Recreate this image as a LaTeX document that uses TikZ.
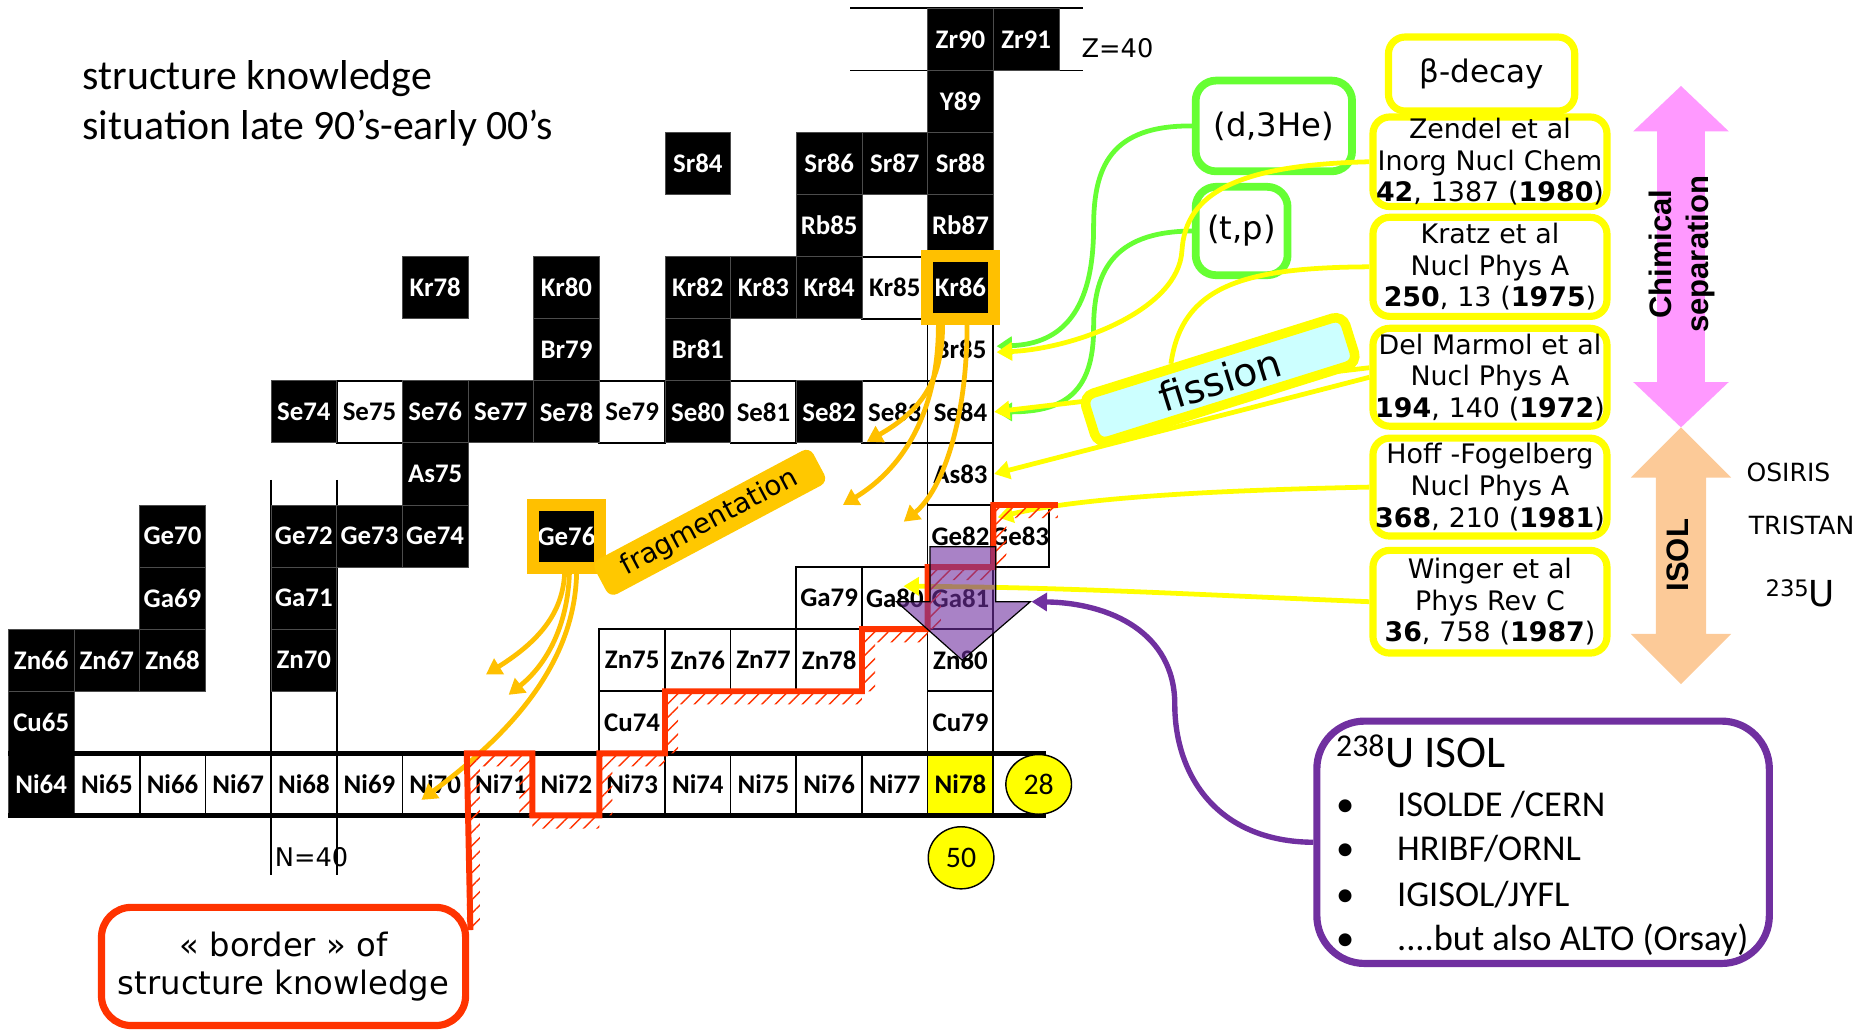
\documentclass[tikz,border=0pt]{standalone}
\usepackage{fontspec}
\setmainfont{Carlito}
\newfontfamily\calfont{Carlito}
\newfontfamily\verfont{DejaVu Sans}
\newfontfamily\arfont{Liberation Sans}
\usetikzlibrary{arrows.meta,calc,patterns.meta,shapes.geometric}
\newcommand\setfs[2]{\fontsize{#1}{#2}\selectfont}

\definecolor{frgold}{HTML}{FFC000}
\definecolor{fraggold}{HTML}{FFC800}
\definecolor{hlyellow}{HTML}{FFFF00}
\definecolor{rxgreen}{HTML}{66FF33}
\definecolor{borderred}{HTML}{FF3300}
\definecolor{isolpurple}{HTML}{7030A0}
\definecolor{fisscyan}{HTML}{CCFFFF}
\definecolor{chempink}{HTML}{FF99FF}
\definecolor{isolpeach}{HTML}{FCCA98}

\begin{document}
\begin{tikzpicture}[x=1pt,y=-1pt,
  >={Triangle[length=13pt,width=15pt]},
  cellbase/.style={minimum width=55pt,minimum height=52pt,inner sep=0pt,
    font=\calfont\bfseries\setfs{22.5}{22.5}},
  known/.style={cellbase,fill=black,draw=black!70,line width=0.8pt,text=white},
  opencell/.style={cellbase,fill=white,draw=black,line width=1.4pt},
  magiccell/.style={cellbase,fill=hlyellow,draw=black,line width=1.4pt},
  shellnum/.style={ellipse,draw=black,line width=1.2pt,fill=hlyellow,inner sep=0pt,
    minimum width=55pt,font=\calfont\setfs{25}{25}},
  gridline/.style={draw=black,line width=1.5pt},
  goldframe/.style={draw=frgold,line width=10pt},
  rxbox/.style={draw=rxgreen,line width=6.5pt,rounded corners=17pt,fill=white,
    inner sep=0pt,font=\verfont\setfs{27}{30}},
  refbox/.style={draw=hlyellow,line width=6pt,rounded corners=14pt,fill=white,
    text width=196pt,align=center,inner sep=0pt,font=\verfont\setfs{22.5}{26.5}},
  fissshape/.style={line width=8pt,rounded corners=9pt,minimum width=228pt,
    minimum height=42pt,rotate=17.4,inner sep=0pt,font=\verfont\setfs{33}{33}},
  yconn/.style={draw=hlyellow,line width=4pt},
  gconn/.style={draw=rxgreen,line width=4pt},
  oconn/.style={draw=frgold,line width=4pt},
  plain/.style={inner sep=0pt},
  bul/.style={anchor=base west,inner sep=0pt,font=\calfont\setfs{30.5}{37}}]

\useasboundingbox (0,0) rectangle (1568,866);

% title
\node[plain,anchor=base west,font=\calfont\setfs{35}{42}] (title1) at (69,75) {structure knowledge};
\node[plain,anchor=base west,font=\calfont\setfs{35}{42}] (title2) at (69,117) {situation late 90’s-early 00’s};

% shell closure guide lines
\draw[gridline] (712,7) -- (907,7);
\draw[gridline] (712,59) -- (907,59);
\node[plain,font=\verfont\setfs{21.5}{21.5}] (zlabel) at (936,40) {Z=40};
\draw[gridline] (227,402) -- (227,733);
\draw[gridline] (282,402) -- (282,733);
\node[plain,font=\verfont\setfs{21.5}{21.5}] (nlabel) at (261,718) {N=40};

% chart cells: name / N / Z
\foreach \n/\nn/\zz in {Ni65/37/28,Ni66/38/28,Ni67/39/28,Ni68/40/28,Ni69/41/28,Ni70/42/28,
    Ni71/43/28,Ni72/44/28,Ni73/45/28,Ni74/46/28,Ni75/47/28,Ni76/48/28,Ni77/49/28,
    Cu74/45/29,Cu79/50/29,Zn75/45/30,Zn76/46/30,Zn77/47/30,Zn78/48/30,Zn80/50/30,
    Ga79/48/31,Ga80/49/31,Ga81/50/31,Ge82/50/32,As83/50/33,
    Se75/41/34,Se79/45/34,Se81/47/34,Se83/49/34,Se84/50/34,Br85/50/35,Kr85/49/36}
  \node[opencell] (\n) at ({34.5+(\nn-36)*55},{657-(\zz-28)*52}) {\n};
\node[opencell,minimum width=45pt] (Ge83) at (854.5,449) {Ge83};
\node[magiccell] (Ni78) at ({34.5+14*55},657) {Ni78};
\foreach \n/\nn/\zz in {Ni64/36/28,Cu65/36/29,Zn66/36/30,Zn67/37/30,Zn68/38/30,Zn70/40/30,
    Ga69/38/31,Ga71/40/31,Ge70/38/32,Ge72/40/32,Ge73/41/32,Ge74/42/32,Ge76/44/32,
    As75/42/33,Se74/40/34,Se76/42/34,Se77/43/34,Se78/44/34,Se80/46/34,Se82/48/34,
    Br79/44/35,Br81/46/35,Kr78/42/36,Kr80/44/36,Kr82/46/36,Kr83/47/36,Kr84/48/36,
    Kr86/50/36,Rb85/48/37,Rb87/50/37,Sr84/46/38,Sr86/48/38,Sr87/49/38,Sr88/50/38,
    Y89/50/39,Zr90/50/40,Zr91/51/40}
  \node[known] (\n) at ({34.5+(\nn-36)*55},{657-(\zz-28)*52}) {\n};

% Z=28 rails and magic numbers
\draw[line width=4pt] (7,631) -- (876,631);
\draw[line width=4pt] (7,683) -- (876,683);
\node[shellnum,minimum height=50pt] (magic28) at (870,657) {28};
\node[shellnum,minimum height=52pt] (magic50) at (805,718.5) {50};

% primary beams
\draw[goldframe] (Kr86.north west) rectangle (Kr86.south east);
\draw[goldframe] (Ge76.north west) rectangle (Ge76.south east);

% fragmentation products
\coordinate (kA) at (726,370);
\coordinate (kB) at (706,423);
\coordinate (kC) at (757,437);
\coordinate (gA) at (407,565);
\coordinate (gB) at (426,582);
\draw[oconn,->] ($(Kr86.south)+(-15,5)$) .. controls +(0,48) and +(44,-25) .. (kA);
\draw[oconn,->] ($(Kr86.south)+(-18.5,5)$) .. controls +(0,68) and +(54,-33) .. (kB);
\draw[oconn,->] ($(Kr86.south)+(5.5,5)$) .. controls +(0,78) and +(33,-27) .. (kC);
\draw[oconn,->] ($(Ge76.south)+(-1.5,3)$) .. controls +(-1,32) and +(48,-30) .. (gA);
\draw[oconn,->] ($(Ge76.south)+(2.5,3)$) .. controls +(-1,42) and +(34,-27) .. (gB);
\draw[oconn,->] ($(Ge76.south)+(8.5,3)$) .. controls +(-1,82) and +(67,-50) .. ($(Ni70.center)+(-11.5,13)$);

% transfer reactions
\node[rxbox,minimum width=131pt,minimum height=76pt] (dhe) at (1067,105.5) {(d,3He)};
\node[rxbox,minimum width=77pt,minimum height=74pt] (tp) at (1040,193.5) {(t,p)};
\draw[gconn,->] (dhe.west) .. controls (930,105) and (916,140) .. (916,190)
  .. controls (916,260) and (890,288) .. ($(Br85.east)+(2,-3)$);
\draw[gconn,->] (tp.west) .. controls (930,194) and (916,230) .. (916,275)
  .. controls (916,330) and (890,345) .. ($(Se84.east)+(2,0)$);

% beta-decay references
\node[refbox,minimum height=75pt] (zendel) at (1248,135.5)
  {Zendel et al\\Inorg Nucl Chem\\\textbf{42}, 1387 (\textbf{1980})};
\node[refbox,minimum height=83pt] (kratz) at (1248,223.5)
  {Kratz et al\\Nucl Phys A\\\textbf{250}, 13 (\textbf{1975})};
\node[refbox,minimum height=82pt] (delmarmol) at (1248,316)
  {Del Marmol et al\\Nucl Phys A\\\textbf{194}, 140 (\textbf{1972})};
\node[refbox,minimum height=82pt] (hoff) at (1248,408)
  {Hoff -Fogelberg\\Nucl Phys A\\\textbf{368}, 210 (\textbf{1981})};
\node[refbox,minimum height=86pt] (winger) at (1248,504)
  {Winger et al\\Phys Rev C\\\textbf{36}, 758 (\textbf{1987})};
\node[refbox,text width=156pt,minimum height=62pt,font=\verfont\setfs{26}{26}] (betadecay) at (1241,62) {β-decay};

% outline of the fission label, used only for its anchors
\path node[fissshape] (fission) at (1022,318) {};

\draw[yconn,->] (zendel.west) .. controls (1040,138) and (993,160) .. (990,210)
  .. controls (987,260) and (900,292) .. ($(Br85.east)+(2,2)$);
\draw[yconn] (kratz.west) .. controls (1040,224) and (990,240) .. ($(fission.north west)!0.35!(fission.north east)$);
\draw[yconn,->] ($(delmarmol.west)+(0,-8)$) -- (Se84.east);
\draw[yconn,->] (delmarmol.west) -- (As83.east);
\draw[yconn,->] (hoff.west) .. controls (1000,411) and (900,418) .. ($(Ge83.north west)+(6,11)$);
\draw[yconn,->] (winger.west) .. controls (1000,498) and (900,492) .. ($(Ga80.east)+(-21,-10)$);

% fission label drawn over its incoming lines
\node[fissshape,draw=hlyellow,fill=fisscyan] (fissionlabel) at (fission.center) {fission};

% border of structure knowledge
\node[draw=borderred,line width=6pt,rounded corners=25pt,minimum width=305pt,minimum height=99pt,
  align=center,inner sep=0pt,font=\verfont\setfs{27}{32}] (borderbox) at (237.5,809.5)
  {«~border~» of\\structure knowledge};
\path[pattern={Lines[angle=45,distance=8pt,line width=1.2pt]},pattern color=borderred]
  (391,631) rectangle (402,778)
  (391,631) rectangle (446,642)
  (435,631) rectangle (446,683)
  (446,683) rectangle (502,694)
  (502,631) rectangle (513,683)
  (502,631) rectangle (557,642)
  (557,579) rectangle (568,631)
  (557,579) rectangle (722,590)
  (722,527) rectangle (733,579)
  (722,527) rectangle (777,538)
  (777,475) rectangle (788,527)
  (777,475) rectangle (832,486)
  (832,423) rectangle (843,475)
  (832,423) rectangle (886,434);
\draw[borderred,line width=5pt,line join=miter]
  ($(borderbox.north east)+(1,22)$) -- (391,631) -- (446,631) -- (446,683) -- (502,683)
  -- (502,631) -- (557,631) -- (557,579) -- (722,579) -- (722,527) -- (777,527)
  -- (777,475) -- (832,475) -- (832,423) -- (886,423);

% fragmentation label
\node[fill=fraggold,rounded corners=7pt,minimum width=207pt,minimum height=33pt,rotate=28,
  inner sep=0pt,font=\verfont\setfs{23}{23}] (fragm) at (594.5,437.5) {fragmentation};

% 238U ISOL
\fill[isolpurple,fill opacity=0.6] (779,458) -- (834,458) -- (834,504) -- (863,504)
  -- (806,553) -- (751,504) -- (779,504) -- cycle;
\draw[black,line width=1pt] (779,458) -- (834,458) -- (834,504) -- (863,504)
  -- (806,553) -- (751,504) -- (779,504) -- cycle;
\coordinate (arrowcorner) at (864,504);
\node[draw=isolpurple,line width=6pt,rounded corners=40pt,minimum width=379pt,
  minimum height=203pt,inner sep=0pt] (isolbox) at (1292.5,705.5) {};
\draw[isolpurple,line width=4.5pt,->] (isolbox.west) .. controls (1020,705) and (984,650) .. (984,590)
  .. controls (984,530) and (930,505) .. (arrowcorner);
\node[anchor=base west,inner sep=0pt,font=\calfont\setfs{38}{40}] (isoltitle) at (1119,643)
  {\textsuperscript{238}U ISOL};
\node[bul] (b1) at (1119,684) {•};
\node[bul] (b2) at (1119,721) {•};
\node[bul] (b3) at (1119,759) {•};
\node[bul] (b4) at (1119,796) {•};
\node[bul] (i1) at (1170,684) {ISOLDE /CERN};
\node[bul] (i2) at (1170,721) {HRIBF/ORNL};
\node[bul] (i3) at (1170,759) {IGISOL/JYFL};
\node[bul] (i4) at (1170,796) {....but also ALTO (Orsay)};

% separation techniques
\fill[chempink] (1408,72) -- (1448,110) -- (1428,110) -- (1428,320) -- (1448,320) -- (1408,358)
  -- (1368,320) -- (1388,320) -- (1388,110) -- (1368,110) -- cycle;
\fill[isolpeach] (1408,358) -- (1450,400) -- (1429,400) -- (1429,531) -- (1450,531) -- (1408,573)
  -- (1366,531) -- (1387,531) -- (1387,400) -- (1366,400) -- cycle;
\node[rotate=90,align=center,inner sep=0pt,font=\arfont\bfseries\setfs{26}{31}] (chemsep) at (1409,213)
  {Chimical\\separation};
\node[rotate=90,inner sep=0pt,font=\arfont\bfseries\setfs{26}{26}] (isollabel) at (1405,465) {ISOL};
\node[plain,font=\verfont\setfs{21}{21}] (osiris) at (1498,396) {OSIRIS};
\node[plain,font=\verfont\setfs{21}{21}] (tristan) at (1509,440) {TRISTAN};
\node[plain,font=\verfont\setfs{30}{30}] (u235) at (1508,497) {\raisebox{9pt}{\setfs{19}{19}235}U};

\end{tikzpicture}
\end{document}
